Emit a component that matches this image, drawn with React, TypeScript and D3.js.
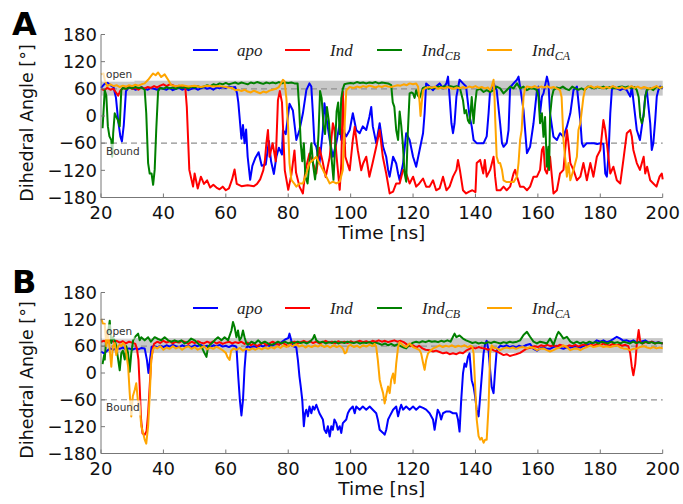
import React from "react";
import * as d3 from "d3";

type P = [number, number];

const timeTicks = [20, 40, 60, 80, 100, 120, 140, 160, 180, 200];
const angleTicks = [-180, -120, -60, 0, 60, 120, 180];
const seriesNames = ["apo", "Ind", "IndCB", "IndCA"];
const seriesColors = ["#0000ff", "#ff0000", "#008000", "#ffa500"];

const aApo: P[] = [[20,62],[21,70],[22,74],[23,68],[24,64],[24.8,40],[25.5,-10],[26.2,-45],[26.7,-56],[27.3,-20],[28,55],[29,64],[30,62],[31,58],[32,60],[33,64],[34,60],[35,58],[36,62],[37,60],[38,58],[39,62],[40,60],[41,58],[42,62],[43,57],[44,60],[45,62],[46,58],[47,61],[48,57],[49,60],[50,62],[51,58],[52,61],[53,64],[54,60],[55,62],[56,58],[57,63],[58,61],[59,64],[60,62],[61,65],[62,63],[63,64],[63.6,50],[64,30],[64.5,-10],[65,-50],[65.5,-20],[66,-60],[66.5,-30],[67,-90],[67.8,-141],[68.5,-110],[69.5,-92],[70.5,-80],[71.5,-110],[72.8,-107],[73.8,-55],[74.5,-100],[75.4,-128],[76.2,-90],[77,-70],[78,-85],[78.3,-31],[79.2,-40],[80.4,27],[81.5,12],[82.6,-53],[83.6,-31],[84.7,6],[85.8,57],[86.8,72],[87.4,65],[87.9,6],[88.4,-60],[89,-68],[90,-105],[91.1,-31],[91.6,28],[92.2,-2],[93.3,-53],[94.3,-90],[95.4,-60],[96.5,-16],[97,-53],[97.5,-31],[98.6,-45],[99.7,-31],[100.7,6],[101.8,-31],[102.9,-38],[103.9,-23],[105,-31],[106,-2],[106.6,20],[107.1,-23],[108.2,-60],[109.3,-16],[110.4,-68],[111.4,-90],[112,-119],[112.5,-134],[113.6,-90],[114.6,-105],[115.2,-127],[115.7,-142],[116.8,-105],[117.8,-38],[118.9,-53],[120,-90],[121,-112],[122.1,-75],[123.2,-38],[123.7,6],[124.2,72],[125.3,65],[126.4,57],[127.4,65],[128.5,72],[129.6,61],[130.7,72],[131.2,87],[131.7,43],[132.3,-16],[132.8,-38],[133.3,-16],[133.9,43],[134.9,80],[136,72],[137,65],[137.6,28],[138.1,0],[138.8,-23],[139.4,-53],[140.4,-60],[141.5,-60],[142.6,-60],[143.6,-45],[144.2,6],[144.7,57],[145.2,61],[145.8,72],[146.8,57],[147.9,-16],[148.5,-60],[149,-68],[150,-60],[150.6,-31],[151.1,63],[152.2,72],[153.3,80],[153.8,87],[154.3,65],[155.4,13],[156.5,-82],[157.5,-68],[158.6,-16],[159.7,57],[160.2,65],[160.7,6],[161.3,43],[161.8,50],[162.9,87],[163.4,72],[163.9,6],[165,-46],[166.1,-53],[167.1,-38],[168.2,-46],[169.3,-23],[170.4,6],[171.4,57],[172.5,65],[173.6,-9],[174.1,-60],[174.6,-68],[175.7,-60],[176.8,-60],[178,-60],[179,-62],[180,-60],[181,-62],[181.6,-127],[182.1,-134],[182.6,-90],[183.2,6],[183.7,57],[184.2,65],[185.3,61],[186.4,57],[187.4,61],[188.5,57],[189.6,43],[190.1,65],[190.6,35],[191.7,-31],[192.7,-53],[193.9,6],[194.4,43],[194.9,57],[196,-16],[196.5,-75],[197,-60],[197.6,-9],[198.1,43],[198.6,57],[199.2,65],[200,61]];

const aInd: P[] = [[20,60],[21,57],[22,62],[23,58],[24,60],[24.8,52],[25.5,45],[26.2,56],[27,62],[28,60],[29,64],[30,60],[31,62],[32,58],[33,63],[34,61],[35,64],[36,62],[37,66],[38,63],[39,67],[40,70],[41,66],[42,70],[43,68],[44,65],[45,67],[46,63],[47,64],[47.5,20],[48.3,-119],[49.5,-156],[50,-127],[51,-160],[52,-134],[53,-150],[54,-142],[55,-158],[56,-152],[57,-158],[58,-162],[59,-156],[60,-164],[61,-160],[62,-140],[62.8,-118],[63.5,-150],[65,-155],[67,-153],[69,-155],[70,-150],[71,-140],[72,-120],[72.5,-100],[73,-60],[73.5,-31],[74,-90],[75,-60],[76,-100],[76.7,35],[77.3,55],[78,30],[78.9,-120],[80,-163],[81,-130],[82,-76],[82.5,-125],[83.6,-156],[84.7,-171],[85.5,-120],[86.8,-83],[88,-105],[89,-127],[90,-70],[91,-100],[92,-135],[93.3,-90],[94.3,-16],[94.8,-30],[95.5,-90],[96.5,-163],[97,-105],[97.5,54],[98.3,-90],[99.7,-120],[100.7,-53],[101.3,-24],[102.3,-76],[103.4,-120],[104,-105],[105,-90],[106,-134],[107,-105],[108.2,-68],[109.3,-31],[110.3,-90],[111.4,-127],[112.5,-171],[113.6,-167],[114.6,-149],[115.7,-149],[116.8,-119],[117.8,-127],[118.9,-149],[120,-134],[121,-156],[122,-149],[123.2,-138],[124.2,-156],[125.3,-156],[126.4,-142],[127.4,-164],[128.5,-160],[129.6,-134],[130.7,-164],[131.7,-156],[132.8,-134],[133.9,-119],[134.4,-97],[135,-119],[136,-164],[137,-171],[138,-167],[139,-164],[140,-168],[140.4,-104],[141.5,-97],[142.5,-127],[143,-97],[143.6,-134],[144.7,-119],[145.8,-90],[146.3,-134],[146.8,-164],[148,-164],[149,-156],[150,-164],[151.1,-156],[152.2,-127],[152.7,-119],[153.3,-134],[154.3,-156],[155.4,-156],[156.5,-164],[157.5,-156],[158.6,-134],[159.7,-134],[160.7,-119],[161.3,-75],[161.8,-68],[162.3,-119],[162.9,-127],[163.9,-90],[165,-171],[166.1,-164],[167.1,-127],[168.2,-119],[169.3,-31],[169.8,-60],[170.4,-104],[171.4,-119],[172.5,-142],[173.6,-134],[174.6,-104],[175.7,-142],[176.8,-104],[177.8,-134],[178.9,-90],[180,-75],[181,-9],[181.6,-31],[182.1,-60],[183.2,-127],[184.2,-112],[185.3,-142],[186.4,-149],[187.4,-97],[188.5,-38],[189.6,-31],[190.1,-45],[190.6,-75],[191.7,-104],[192.7,-119],[193.9,-90],[194.4,-127],[195,-112],[196,-142],[197,-149],[198,-156],[199,-134],[199.7,-127],[200,-140]];

const aIndCB: P[] = [[20.5,-27],[21.2,57],[21.7,45],[22.2,-23],[22.7,-45],[23.3,-53],[23.6,-90],[23.9,-38],[24.4,6],[24.9,-2],[25.4,-9],[26,-23],[26.5,57],[27,62],[28,60],[29,63],[30,61],[31,64],[32,62],[33,63],[34,58],[34.5,6],[35.1,-104],[35.6,-127],[36.2,-127],[36.7,-152],[37.2,-119],[37.7,-31],[38.3,55],[39,62],[40,60],[41,64],[42,61],[43,63],[44,60],[45,64],[46,62],[47,64],[48,61],[49,65],[50,63],[51,66],[52,63],[53,65],[54,68],[55,66],[56,70],[57,68],[58,72],[59,70],[60,73],[61,70],[62,72],[63,74],[64,71],[65,74],[66,72],[67,70],[68,74],[69,72],[70,75],[71,73],[72,71],[73,74],[74,72],[75,74],[76,72],[77,75],[78,72],[79,74],[80,73],[81,74],[82,72],[83,72],[83.5,20],[84,-60],[84.5,-100],[85,-60],[85.5,-134],[86.2,-149],[86.8,-100],[87.4,-60],[88,-110],[88.6,-140],[89.2,-100],[89.7,-40],[90.2,55],[90.7,40],[91.3,-20],[91.8,-40],[92.4,20],[93,-10],[93.5,-60],[94.1,-110],[94.5,-141],[95,-70],[95.5,10],[96,30],[96.5,-40],[97,40],[97.5,60],[98,70],[99,72],[100,73],[101,72],[102,75],[103,73],[104,74],[105,72],[106,74],[107,73],[108,75],[109,72],[110,74],[111,73],[112,72],[113,68],[113.5,30],[114,20],[114.6,-31],[115.2,-53],[115.7,10],[116.2,-20],[116.7,-60],[117.3,-127],[117.8,-145],[118.3,-40],[118.9,50],[119.5,52],[120,50],[120.5,40],[121,57],[121.6,45],[122.1,40],[122.6,50],[123.2,62],[124,64],[125,60],[126,63],[127,62],[128,65],[129,63],[130,66],[131,64],[132,66],[133,64],[134,66],[135,62],[136,35],[136.5,6],[137,13],[137.6,-10],[138.1,-16],[138.5,13],[138.8,42],[139.4,-16],[139.9,28],[140.4,57],[141.5,60],[142.6,53],[143.6,57],[144.7,53],[145.8,57],[146.8,65],[147.9,61],[149,50],[150,57],[151.1,65],[152.2,61],[153.3,72],[154.3,61],[155.4,65],[156.5,57],[157.5,61],[158.6,61],[159.7,57],[160.2,42],[160.7,-16],[161.3,6],[161.8,-46],[162.3,-2],[162.9,-112],[163.4,-68],[163.6,-119],[163.9,0],[164.5,42],[165,57],[166,63],[167,61],[168,65],[169,60],[170,57],[171,65],[172,61],[173,58],[174,61],[175,57],[176,65],[177,63],[178,61],[179,64],[180,62],[181,65],[182,61],[183,64],[184,62],[185,61],[186,64],[187,65],[188,63],[189,65],[190,61],[191,64],[191.7,57],[192.3,42],[192.8,-2],[193.3,-16],[193.9,0],[194.4,42],[194.9,57],[196,61],[197,57],[198,65],[199,61],[200,65]];

const aIndCA: P[] = [[20,92],[20.8,94],[21.2,80],[22,66],[23,70],[24,66],[25,68],[26,64],[27,67],[28,65],[29,68],[30,66],[31,69],[32,67],[33,70],[34,72],[35.1,80],[36,88],[36.7,94],[37.5,90],[38.3,96],[39.3,86],[40.4,92],[41.5,80],[42.5,68],[44,66],[46,68],[48,65],[50,67],[52,64],[54,67],[56,65],[58,66],[60,64],[62,62],[63,57],[64,58],[65,55],[66,58],[67,54],[68,52],[69,56],[70,53],[71,50],[72,54],[73,52],[74,56],[75,58],[76,60],[77,64],[78.3,80],[78.8,77],[79.4,40],[80,-30],[80.4,-104],[81,-141],[82,-150],[82.6,-156],[83.6,-149],[84.7,-149],[85.8,-127],[86.8,-104],[87.9,-97],[89,-90],[90,-104],[91.1,-119],[92.2,-134],[93.3,-149],[94.3,-145],[95.4,-149],[96.5,-145],[97.5,-119],[98,-30],[98.6,57],[99.7,64],[101,62],[102,65],[103,63],[104,66],[105,64],[106,67],[107,65],[108,63],[109,66],[110,64],[111,67],[112,65],[113,64],[114,66],[115,68],[116,67],[117,70],[118,68],[118.9,72],[120,70],[121,72],[121.6,65],[122.1,30],[122.4,0],[122.8,30],[123.2,57],[124,62],[125.3,64],[126,62],[127,65],[128,60],[129,63],[130,61],[131,64],[132,62],[133,60],[134,63],[135,61],[136,64],[137,62],[138,65],[139,63],[140,66],[141,62],[142,64],[143,61],[144,63],[144.7,57],[145.2,65],[145.8,80],[146.1,42],[146.3,-2],[146.8,-90],[147.4,-104],[147.9,-104],[148.5,-119],[149,-142],[150,-146],[151.1,-146],[152.2,-146],[153.3,-134],[153.8,-104],[154.3,-53],[154.8,-31],[155.4,42],[155.9,61],[156.5,65],[158,63],[159,66],[160,62],[161,65],[162,63],[163,66],[164,62],[165,64],[166,61],[167.1,57],[167.6,42],[168.2,-53],[168.7,-90],[169.3,-134],[169.8,-104],[170.4,-142],[171.4,-119],[172.5,-90],[173,-31],[173.6,-16],[174.6,42],[175.2,61],[176,64],[177,66],[178,62],[179,65],[180,63],[181,61],[182,64],[183,62],[184,66],[185,63],[186,61],[187,64],[188,60],[189,63],[190,66],[191,62],[192,65],[193,61],[194,64],[195,62],[196,60],[197,63],[198,66],[199,62],[200,64]];

const bApo: P[] = [[20,48],[21,44],[22,50],[23,55],[24,52],[25,56],[26,54],[27,57],[28,53],[29,55],[30,52],[31,55],[32,53],[33,56],[34,55],[34.7,30],[35.2,0],[35.7,30],[36.2,58],[37,60],[38,57],[39,61],[40,58],[41,62],[42,59],[43,63],[44,60],[45,58],[46,62],[47,59],[48,61],[49,58],[50,62],[51,60],[52,63],[53,59],[54,61],[55,58],[56,62],[57,60],[58,63],[59,59],[60,61],[61,58],[62,62],[63,60],[63.4,58],[64,-10],[64.5,-60],[65,-95],[65.5,-60],[66,10],[66.5,55],[67,60],[68,57],[69,60],[70,58],[71,62],[72,59],[73,63],[74,60],[75,62],[76,65],[77,63],[78,70],[79,75],[80,78],[80.4,88],[81,72],[81.5,60],[82.6,57],[83.1,29],[83.6,-8],[84,-30],[84.5,-60],[85,-119],[85.4,-90],[85.8,-82],[86.3,-97],[86.8,-75],[87.4,-90],[87.9,-75],[88.4,-82],[89,-71],[90,-90],[91.1,-104],[91.6,-127],[92.2,-134],[92.7,-119],[93.3,-142],[93.8,-119],[94.3,-127],[94.8,-104],[95.4,-112],[95.9,-127],[96.5,-119],[97,-134],[97.5,-112],[98.6,-104],[99.1,-90],[99.7,-82],[100.7,-75],[101.3,-90],[101.8,-75],[102.9,-82],[103.9,-75],[105,-82],[106.1,-75],[107.1,-82],[108.2,-90],[108.7,-104],[109.3,-127],[110.4,-134],[110.9,-138],[111.4,-127],[112,-104],[112.5,-97],[113.6,-82],[114.6,-75],[115.2,-97],[115.7,-82],[116.2,-71],[116.8,-82],[117.8,-75],[118.9,-82],[120,-75],[121,-82],[122.1,-75],[123.2,-78],[124.2,-82],[125.3,-90],[126.4,-104],[126.9,-127],[127.4,-104],[127.9,-82],[128.5,-90],[129,-104],[129.6,-90],[130.7,-86],[131.7,-86],[132.8,-90],[133.9,-90],[134.4,-104],[134.9,-131],[135.4,-64],[136,-1],[136.5,21],[137,14],[137.6,36],[138.1,44],[138.8,-16],[139.4,-31],[139.9,-53],[140.4,-82],[141,-97],[141.5,-53],[142,-9],[142.6,44],[143.1,65],[143.6,72],[144.2,50],[144.7,6],[145.2,-31],[145.8,-45],[146.3,6],[146.8,50],[147.4,57],[148,61],[149,59],[150,62],[151,58],[152,60],[153,57],[154,61],[155,58],[156,62],[157.5,65],[158.6,54],[159.7,50],[161,56],[161.8,57],[163,54],[163.9,54],[165,58],[166.1,61],[167,57],[168.2,54],[169,57],[170.4,57],[172,60],[173.6,57],[175,62],[176.8,65],[178,68],[178.9,73],[180,70],[181,73],[182,69],[183,71],[184,75],[185.3,81],[186.4,77],[187.4,72],[188.5,73],[189.6,70],[190.6,73],[191.7,68],[193,70],[194.4,73],[195.5,68],[196.5,70],[197.6,67],[198.6,69],[200,66]];

const bInd: P[] = [[20,70],[21,72],[22,68],[23,74],[24,70],[25,72],[26,68],[27,71],[28,66],[29,70],[30,68],[31,65],[31.5,55],[32,30],[32.4,-30],[32.8,-100],[33.3,-135],[34,-138],[34.6,-130],[35.1,-90],[35.6,-30],[36.1,30],[36.7,58],[37,65],[38,70],[39,67],[40,72],[41,68],[42,71],[43,66],[44,70],[45,68],[46,72],[47,69],[48,65],[49,70],[50,67],[51,71],[52,68],[53,66],[54,70],[55,67],[56,71],[57,66],[58,69],[59,65],[60,68],[61,70],[62,66],[63,69],[64,67],[65,70],[66,65],[67,68],[68,62],[69,66],[70,60],[71,64],[72,68],[73,62],[74,66],[75,70],[76,66],[77,63],[78,68],[79,64],[80,60],[81,66],[82,70],[83,66],[84,69],[85,72],[86,68],[87,71],[88,67],[89,70],[90,66],[91,69],[92,72],[93,68],[94,70],[95,66],[96,71],[97,68],[98,70],[99,67],[100,71],[101,68],[102,70],[103,72],[104,69],[105,71],[106,68],[107,72],[108,70],[109,73],[110,70],[111,72],[112,69],[113,71],[114,73],[115,70],[116,72],[117,69],[118,64],[119,60],[120,62],[121,57],[122,61],[123,55],[124,52],[125.3,51],[126.4,48],[127.4,50],[128.5,47],[129.6,44],[130.7,46],[131.7,42],[132.8,44],[133.9,42],[135,46],[136,44],[137,50],[138.1,54],[139,57],[140,55],[141,58],[142,56],[143,55],[144,52],[145,54],[146,50],[147,48],[148,44],[149,40],[150,42],[151,38],[152,40],[153,42],[154.3,45],[155.4,50],[156.5,55],[158,57],[159,60],[160,58],[161,62],[162,60],[163,63],[164,60],[165,62],[166,59],[167,63],[168,61],[169,58],[170,62],[171,60],[172,63],[173,59],[174,62],[175,64],[176,60],[177,63],[178,61],[179,65],[180,62],[181,66],[182,63],[183,61],[184,65],[185,62],[186,64],[187,61],[188,63],[189,60],[189.6,44],[190.1,14],[190.6,-5],[191.2,20],[191.7,64],[192.3,96],[192.8,70],[193.5,66],[194.5,69],[195.5,67],[196.5,70],[197.5,66],[198.5,68],[200,66]];

const bIndCB: P[] = [[20.5,20],[21,40],[21.2,30],[21.7,80],[22.2,88],[22.8,117],[23.3,67],[23.8,80],[24.4,73],[24.9,60],[25.5,30],[26,6],[26.5,44],[27,50],[27.6,30],[28.1,60],[28.7,44],[29.2,3],[29.7,44],[30.3,73],[30.8,80],[31.9,88],[32.4,73],[32.9,80],[34,73],[35.1,80],[36,70],[37.2,80],[38.3,76],[39.3,73],[40.4,80],[41.5,73],[42.5,70],[43.6,73],[44.7,70],[45.8,73],[46.8,66],[47.9,70],[48.9,77],[50,73],[51.1,66],[52.2,59],[53.2,44],[53.8,36],[54.3,59],[55.4,66],[56.4,73],[57.5,80],[58.6,73],[59.6,80],[60.7,73],[61.8,95],[62.3,114],[62.8,103],[63.4,80],[63.9,95],[64.4,73],[65,80],[65.5,95],[66,80],[66.6,66],[67.1,63],[68.2,70],[69.3,66],[70.4,73],[71.4,66],[72.5,70],[73.5,66],[74.6,63],[75.7,66],[76.7,70],[77.8,66],[78.9,70],[80,66],[81,69],[82,66],[83,70],[84,67],[85,69],[86,66],[87,70],[87.9,77],[88.4,85],[89,73],[90,68],[91,70],[92,66],[93,69],[94,67],[95,70],[96,66],[97,69],[98,67],[99,70],[100,68],[101,67],[102,69],[103,66],[104,68],[105,67],[106,69],[107,66],[108,68],[109,66],[110,63],[111,66],[112,62],[113,65],[114,61],[115,64],[116,60],[117,57],[117.8,55],[118.9,63],[120,68],[121,70],[122,68],[123,71],[124,69],[125,72],[126,70],[127,71],[128,69],[129,72],[130,70],[131,73],[132,70],[132.8,81],[133.3,88],[133.9,80],[134.9,84],[136,77],[137,73],[138,70],[139,67],[140,69],[141,66],[142,68],[143,66],[144,69],[145,67],[146,70],[147,68],[148,66],[149,69],[150,67],[151,70],[152,68],[153.3,70],[154.3,73],[155.4,85],[156.5,92],[157.5,81],[158.6,70],[159.7,66],[160.7,70],[161.8,68],[162.9,66],[163.9,77],[165,63],[166.1,85],[166.6,92],[167.1,88],[168.2,77],[169.3,81],[170.4,70],[171.4,66],[172.5,70],[173.5,66],[174.5,69],[175.5,66],[176.5,70],[177.5,67],[178.5,69],[179.5,66],[180.5,70],[181.5,68],[182.5,66],[183.5,70],[184.5,67],[185.5,69],[186.5,66],[187.5,70],[188.5,68],[189.5,66],[190.5,70],[191.5,67],[192.5,69],[193.5,66],[194.5,70],[195.5,67],[196.5,69],[197.5,66],[198.5,68],[200,66]];

const bIndCA: P[] = [[20.1,121],[20.6,110],[21.2,110],[21.7,60],[22.2,88],[22.7,60],[23.3,14],[23.8,60],[24.4,67],[24.9,40],[25.5,60],[26,63],[26.5,60],[27,67],[27.6,63],[28.1,44],[28.7,14],[29.2,-45],[29.7,-97],[30.2,-52],[30.8,-38],[31.3,-23],[31.8,-60],[32.4,-75],[32.9,-119],[33.5,-134],[34,-149],[34.5,-158],[35.1,-119],[35.6,-52],[36.1,29],[36.6,51],[37.2,58],[38,55],[39,60],[40,52],[41,57],[42,54],[43,60],[44,55],[45,58],[46,52],[47,57],[48,60],[49,54],[50,58],[51,52],[52,56],[53,60],[54,53],[55,57],[56,54],[57,59],[58,55],[59,51],[60,45],[60.5,36],[61.2,29],[61.7,50],[62.5,55],[63.5,52],[64.5,56],[65.5,50],[66.5,54],[67.5,51],[68.5,55],[69.5,52],[70.5,56],[71.5,53],[72.5,57],[73.5,54],[74.5,58],[75.5,55],[76.5,60],[77.5,56],[78.5,62],[79.5,58],[80.5,63],[81.5,60],[82.5,64],[83.5,59],[84.5,62],[85.5,57],[86.5,61],[87.5,58],[88.5,62],[89.5,59],[90.5,63],[91.5,58],[92.5,61],[93.5,57],[94.5,62],[95.5,58],[96.5,61],[97.5,55],[98.1,44],[98.6,46],[99.2,60],[100,63],[101,58],[102,61],[103,57],[104,62],[105,59],[106,63],[107,60],[107.7,65],[108.2,58],[108.7,30],[109.3,-15],[109.8,-30],[110.4,-45],[110.9,-68],[111.4,-50],[112,-30],[112.5,-45],[113,-15],[113.6,-1],[114.1,-23],[114.6,21],[115.2,58],[115.7,69],[116.8,62],[117.8,58],[118.9,66],[120,58],[121,55],[122.1,51],[122.6,44],[123.2,23],[123.7,7],[124.2,29],[124.8,44],[125.3,48],[126.4,55],[127.4,58],[128.5,62],[129.5,58],[130.5,61],[131.5,59],[132.5,62],[133.5,58],[134.5,61],[135.5,59],[136.5,62],[137.5,58],[138.5,61],[139,58],[139.4,44],[139.9,-30],[140.4,-104],[141,-141],[141.5,-149],[142,-145],[142.6,-156],[143.1,-149],[143.6,-149],[144.2,-75],[144.7,44],[145.2,62],[145.8,57],[146.8,55],[147.9,51],[149,55],[150,57],[151,55],[152,57],[153,54],[154,57],[155.4,58],[156.5,55],[157.5,58],[158.6,56],[159.7,51],[160.7,54],[161.8,55],[162.9,51],[163.9,48],[165,51],[166.1,55],[167,57],[168.2,62],[169.3,58],[170.4,51],[171.4,54],[172.5,55],[173.6,51],[174.6,55],[175.7,58],[176.8,62],[177.8,58],[178.9,60],[180,62],[181,58],[182,60],[183.2,58],[184.2,60],[185.3,62],[186.4,57],[187.4,55],[188.5,54],[189.6,51],[190.6,54],[191.7,55],[192.7,58],[193.9,60],[195,57],[196,55],[197,58],[198,55],[199,57],[200,55]];

const bandRange: [number, number] = [45, 78];
const refLines = [60, -60];

const fmt = (d: number) => (d < 0 ? "\u2212" + Math.abs(d) : String(d));

const xS = d3.scaleLinear().domain([20, 200]).range([101, 662.7]);

function Legend({ y }: { y: number }) {
  const items = [
    { x: 193, tx: 237, main: "apo", sub: "" },
    { x: 285, tx: 330, main: "Ind", sub: "" },
    { x: 377, tx: 422, main: "Ind", sub: "CB" },
    { x: 487, tx: 532, main: "Ind", sub: "CA" },
  ];
  return (
    <g>
      {items.map((it, i) => (
        <g key={i}>
          <line x1={it.x} x2={it.x + 25} y1={y} y2={y} stroke={seriesColors[i]} strokeWidth={2} />
          <text x={it.tx} y={y + 5.5} fontFamily="'Liberation Serif', serif" fontStyle="italic" fontSize={17} fill="#222">
            {it.main}
            {it.sub ? (
              <tspan fontSize={12} dy={4}>{it.sub}</tspan>
            ) : null}
          </text>
        </g>
      ))}
    </g>
  );
}

function Panel({ top, bottom, letter, data }: { top: number; bottom: number; letter: string; data: P[][] }) {
  const yS = d3.scaleLinear().domain([-180, 180]).range([bottom, top]);
  const line = d3
    .line<P>()
    .x((d) => xS(d[0]))
    .y((d) => yS(d[1]));
  const x0 = xS(20);
  const x1 = xS(200);
  return (
    <g>
      <rect x={x0} width={x1 - x0} y={yS(bandRange[1])} height={yS(bandRange[0]) - yS(bandRange[1])} fill="#c8c8c8" />
      {refLines.map((v) => (
        <line key={v} x1={x0} x2={x1} y1={yS(v)} y2={yS(v)} stroke="#909090" strokeWidth={1.3} strokeDasharray="6,4" />
      ))}
      {data.map((s, i) => (
        <path key={i} d={line(s) || ""} fill="none" stroke={seriesColors[i]} strokeWidth={2} strokeLinejoin="round" />
      ))}
      <rect x={x0 + 0.5} y={yS(93) - 7} width={33} height={15} fill="#fff" fillOpacity={0.7} />
      <text x={x0 + 5} y={yS(93) + 4} fontSize={10.5} fill="#333" fontFamily="'DejaVu Sans', sans-serif">open</text>
      <rect x={x0 + 0.5} y={yS(-77) - 7} width={39} height={15} fill="#fff" fillOpacity={0.7} />
      <text x={x0 + 5} y={yS(-77) + 4} fontSize={10.5} fill="#333" fontFamily="'DejaVu Sans', sans-serif">Bound</text>
      <line x1={x0} x2={x0} y1={top} y2={bottom} stroke="#777" strokeWidth={1} />
      <line x1={x0} x2={x1} y1={bottom} y2={bottom} stroke="#777" strokeWidth={1} />
      {angleTicks.map((t) => (
        <g key={"y" + t}>
          <line x1={x0} x2={x0 + 4} y1={yS(t)} y2={yS(t)} stroke="#777" />
          <text x={x0 - 4} y={yS(t) + 6.3} textAnchor="end" fontSize={18} fill="#111">{fmt(t)}</text>
        </g>
      ))}
      {timeTicks.map((t) => (
        <g key={"x" + t}>
          <line x1={xS(t)} x2={xS(t)} y1={bottom} y2={bottom - 4} stroke="#777" />
          <text x={xS(t)} y={bottom + 21} textAnchor="middle" fontSize={18} fill="#111">{fmt(t)}</text>
        </g>
      ))}
      <text x={(x0 + x1) / 2} y={bottom + 41} textAnchor="middle" fontSize={18.5} fill="#111">Time [ns]</text>
      <text transform={`translate(33,${(top + bottom) / 2 + 7}) rotate(-90)`} textAnchor="middle" fontSize={17.5} fill="#111">Dihedral Angle [°]</text>
      <text x={12} y={top + 0.5} fontSize={32} fontWeight="bold" fill="#000">{letter}</text>
      <Legend y={top + 15.5} />
    </g>
  );
}

export default function App() {
  return (
    <svg width={683} height={504} style={{ position: "absolute", left: 0, top: 0, background: "#fff" }} fontFamily="'DejaVu Sans', sans-serif">
      <Panel top={34.5} bottom={197.5} letter="A" data={[aApo, aInd, aIndCB, aIndCA]} />
      <Panel top={292.5} bottom={453.5} letter="B" data={[bApo, bInd, bIndCB, bIndCA]} />
    </svg>
  );
}
